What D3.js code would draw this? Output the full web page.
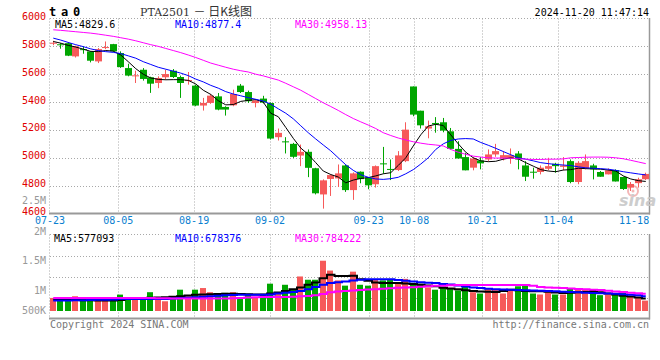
<!DOCTYPE html>
<html>
<head>
<meta charset="utf-8">
<script src="https://cdn.jsdelivr.net/npm/d3@7"></script>
<style>
  body { margin: 0; background: #fff; }
  svg { display: block; }
</style>
</head>
<body>
<div id="chart"></div>
<script>
// trading days 07-23 .. 11-20
const dates = ["07-23","07-24","07-25","07-26","07-29","07-30","07-31","08-01","08-02",
  "08-05","08-06","08-07","08-08","08-09","08-12","08-13","08-14","08-15","08-16",
  "08-19","08-20","08-21","08-22","08-23","08-26","08-27","08-28","08-29","08-30",
  "09-02","09-03","09-04","09-05","09-06","09-09","09-10","09-11","09-12","09-13",
  "09-18","09-19","09-20","09-23","09-24","09-25","09-26","09-27","09-30",
  "10-08","10-09","10-10","10-11","10-14","10-15","10-16","10-17","10-18",
  "10-21","10-22","10-23","10-24","10-25","10-28","10-29","10-30","10-31","11-01",
  "11-04","11-05","11-06","11-07","11-08","11-11","11-12","11-13","11-14","11-15",
  "11-18","11-19","11-20"];

const open  = [5822,5815,5823,5728,5780,5764,5692,5792,5816,5752,5644,5588,5632,5578,5537,5578,5625,5580,5553,5518,
               5375,5394,5441,5365,5377,5518,5472,5393,5425,5393,5148,5118,5100,5016,5043,4925,4737,4848,4852,4945,
               4768,4900,4857,4810,4960,4920,4912,4976,5512,5338,5210,5250,5255,5190,5064,5005,4929,4981,4988,5024,
               4995,4995,5031,4945,4900,4898,4921,4957,4935,4976,4826,4924,4945,4898,4881,4912,4862,4786,4818,4846];
const high  = [5840,5823,5830,5805,5800,5766,5788,5835,5818,5764,5675,5625,5644,5582,5585,5632,5637,5590,5616,5525,
               5430,5458,5465,5370,5489,5530,5482,5421,5445,5398,5210,5148,5107,5095,5060,4928,4845,4881,4952,4952,
               4895,4902,4857,4945,5078,4988,5048,5255,5512,5338,5267,5292,5286,5214,5119,5036,5005,5005,5060,5100,
               5048,5067,5048,4976,4929,4945,5000,4964,5005,4988,4976,5024,4957,4905,4924,4917,4864,4826,4857,4893];
const low   = [5808,5783,5730,5720,5747,5685,5680,5780,5759,5645,5585,5537,5554,5466,5500,5561,5573,5430,5525,5370,
               5339,5387,5341,5303,5370,5465,5394,5362,5390,5131,5124,5031,4999,4940,4861,4737,4635,4726,4790,4755,
               4698,4817,4774,4786,4886,4840,4905,4969,5298,5210,5140,5180,5183,5060,4995,4910,4910,4917,4976,5007,
               4981,4957,4917,4833,4850,4881,4910,4893,4910,4817,4810,4917,4845,4864,4881,4830,4769,4762,4786,4840];
const close = [5826,5811,5733,5800,5773,5697,5780,5795,5764,5651,5590,5592,5566,5532,5573,5601,5580,5537,5558,5375,
               5394,5446,5346,5346,5458,5472,5406,5412,5396,5138,5179,5112,5007,5043,4928,4745,4838,4876,4888,4768,
               4888,4847,4802,4940,4955,4917,5017,5202,5310,5233,5226,5240,5195,5064,4995,4910,4995,4960,5024,5048,
               5019,5019,4988,4864,4897,4929,4940,4940,4945,4826,4964,4976,4917,4864,4910,4830,4776,4812,4846,4884];

const ma5  = [5835,5823,5807,5795,5780,5764,5762,5770,5766,5738,5690,5640,5600,5573,5563,5560,5561,5561,5556,5530,
              5485,5455,5410,5380,5382,5405,5412,5418,5400,5320,5295,5218,5140,5070,5024,4965,4905,4880,4862,4820,
              4840,4852,4858,4870,4885,4893,4945,5000,5085,5165,5228,5240,5232,5165,5100,5040,5000,4978,4972,4975,
              4990,5000,4992,4965,4940,4915,4905,4900,4912,4915,4925,4922,4920,4918,4912,4905,4870,4848,4836,4830];
const ma10 = [5859,5845,5828,5812,5798,5782,5770,5762,5757,5748,5732,5715,5690,5670,5650,5636,5622,5608,5590,5565,
              5545,5520,5500,5475,5458,5445,5432,5420,5408,5385,5352,5320,5280,5230,5180,5135,5092,5050,5000,4950,
              4910,4878,4860,4848,4845,4850,4860,4885,4915,4955,5000,5060,5100,5125,5135,5138,5135,5110,5090,5068,
              5045,5022,5000,4990,4978,4965,4958,4952,4948,4944,4935,4928,4925,4922,4918,4910,4900,4892,4884,4877];
const ma30 = [5919,5915,5910,5905,5900,5895,5888,5880,5872,5862,5852,5840,5826,5812,5800,5785,5770,5755,5738,5720,
              5700,5680,5665,5650,5636,5625,5616,5600,5588,5573,5558,5535,5510,5485,5455,5425,5395,5368,5340,5310,
              5282,5258,5235,5210,5180,5160,5142,5128,5115,5105,5097,5092,5085,5060,5040,5025,5012,5005,5000,4998,
              4998,4997,4993,4990,4988,4988,4990,4990,4992,5000,5002,5004,5005,5005,5004,5000,4993,4982,4970,4958];

// volume in thousands of lots
const volume = [598,598,630,675,550,630,630,630,475,750,630,630,525,860,598,445,630,975,675,975,
                1050,860,785,830,860,598,785,630,785,1250,860,1200,975,1580,1430,1430,2300,1850,1400,1160,
                1800,1200,1160,1430,1400,1430,1280,1470,1200,1250,1080,975,1130,1050,945,1100,860,800,1020,975,
                800,975,1130,1160,800,755,860,755,755,1050,1000,1000,975,725,755,755,830,675,645,475];
const vma5  = [522,515,508,500,492,488,484,480,478,500,552,570,590,605,620,627,650,680,710,748,
               760,770,780,790,794,780,770,760,750,800,850,920,1000,1080,1200,1300,1500,1655,1600,1600,
               1610,1450,1380,1300,1277,1277,1277,1260,1231,1200,1171,1130,1060,1030,990,950,910,895,880,869,
               920,975,950,910,900,900,880,850,824,840,854,870,900,860,800,760,700,660,620,577];
const vma10 = [477,480,485,490,492,500,510,520,530,545,552,552,552,552,552,552,570,590,610,627,
               650,680,700,718,730,740,745,748,748,760,800,830,869,920,1000,1100,1200,1277,1310,1352,
               1400,1430,1458,1458,1458,1458,1420,1380,1352,1320,1290,1277,1240,1210,1171,1120,1080,1050,1020,1000,
               985,975,965,950,940,929,915,900,880,869,855,840,824,815,805,794,770,748,720,678];
const vma30 = [600,600,600,598,598,598,598,598,598,598,598,595,592,590,585,580,575,570,568,568,
               568,568,568,570,580,600,615,630,643,643,643,643,650,670,690,718,780,860,890,915,
               940,960,980,1000,1020,1040,1060,1075,1090,1110,1130,1150,1160,1175,1186,1186,1186,1186,1186,1186,
               1186,1186,1186,1186,1150,1100,1080,1060,1050,1030,1010,990,975,960,930,890,869,840,815,784];

const priceTicks = [6000,5800,5600,5400,5200,5000,4800,4600];
const volTicks = [2500000,2000000,1500000,1000000,500000];
const volTickText = ["2.5M","2M","1.5M","1M","500K"];
const dateTicks = ["07-23","08-05","08-19","09-02","09-23","10-08","10-21","11-04","11-18"];

const W = 660, H = 360;
const left = 50, right = 649.5;
const pTop = 18.5, pBottom = 213.5;
const vTop = 234.5, vBottom = 318.5;
const mono = "'DejaVu Sans Mono', monospace";
const up = "#f65a5a", down = "#00a600";
const gridColor = "#a8a8a8";

const svg = d3.select("#chart").append("svg")
  .attr("width", W).attr("height", H)
  .style("font-family", mono).style("font-size", "10px");

const x = d3.scaleBand().domain(d3.range(dates.length))
  .range([left - 0.5, right]).paddingInner(0.2).paddingOuter(0.1);
const cx = i => x(i) + x.bandwidth() / 2;
const xGrid = d3.scaleLinear().domain([0, dates.length - 1]).range([left, right - 0.2]);
const y = d3.scaleLinear().domain([4600, 6000]).range([pBottom, pTop]);
const yV = d3.scaleLinear().domain([0, 3500]).range([311, vTop]);
const yVLabel = d3.scaleLinear().domain([2500000, 1000000, 500000]).range([200, 290.5, 310.5]);

// grids
const gridIdx = dateTicks.slice(1, -1).map(d => dates.indexOf(d));
[[pTop, pBottom], [vTop, vBottom]].forEach(([t, b]) => {
  svg.append("g").selectAll("line").data(gridIdx).join("line")
    .attr("x1", d => Math.round(xGrid(d)) + 0.5).attr("x2", d => Math.round(xGrid(d)) + 0.5)
    .attr("y1", t).attr("y2", b)
    .attr("stroke", gridColor).attr("stroke-dasharray", "1,2");
});
svg.append("g").selectAll("line").data(priceTicks.slice(1, -1)).join("line")
  .attr("x1", left).attr("x2", right)
  .attr("y1", d => Math.round(y(d)) + 0.5).attr("y2", d => Math.round(y(d)) + 0.5)
  .attr("stroke", gridColor).attr("stroke-dasharray", "1,2");
svg.append("g").selectAll("line").data([1, 2, 3]).join("line")
  .attr("x1", left).attr("x2", right)
  .attr("y1", d => Math.round(vTop + (vBottom - vTop) * d / 4) + 0.5)
  .attr("y2", d => Math.round(vTop + (vBottom - vTop) * d / 4) + 0.5)
  .attr("stroke", gridColor).attr("stroke-dasharray", "1,2");

// panel frames: dotted top/left, solid right/bottom
[[pTop, pBottom], [vTop, vBottom]].forEach(([t, b]) => {
  svg.append("line").attr("x1", left).attr("x2", right).attr("y1", t).attr("y2", t)
    .attr("stroke", gridColor).attr("stroke-dasharray", "1,2");
  svg.append("line").attr("x1", left - 0.5).attr("x2", left - 0.5).attr("y1", t).attr("y2", b)
    .attr("stroke", gridColor).attr("stroke-dasharray", "1,2");
  svg.append("line").attr("x1", right).attr("x2", right).attr("y1", t - 0.5).attr("y2", b + 1)
    .attr("stroke", "#999").attr("stroke-width", 1.5);
  svg.append("line").attr("x1", left - 1).attr("x2", right + 0.5).attr("y1", b).attr("y2", b)
    .attr("stroke", "#999").attr("stroke-width", 2);
});

// watermark
const wm = svg.append("g").attr("opacity", 0.9);
wm.append("circle").attr("cx", 633).attr("cy", 191).attr("r", 5)
  .attr("fill", "none").attr("stroke", "#f3b0b0").attr("stroke-width", 2);
wm.append("circle").attr("cx", 633).attr("cy", 191).attr("r", 1.5).attr("fill", "#f3b0b0");
wm.append("text").attr("x", 619).attr("y", 206)
  .style("font-family", "'DejaVu Sans', sans-serif").style("font-size", "16px")
  .style("font-style", "italic").style("font-weight", "bold")
  .attr("fill", "#c8c8c8").text("sina");

// candles
const idx = d3.range(dates.length);
const col = i => close[i] >= open[i] ? up : down;
const candles = svg.append("g");
candles.selectAll("line").data(idx).join("line")
  .attr("x1", i => Math.floor(cx(i)) + 0.5).attr("x2", i => Math.floor(cx(i)) + 0.5)
  .attr("y1", i => y(high[i])).attr("y2", i => y(low[i]))
  .attr("stroke", col);
candles.selectAll("rect").data(idx).join("rect")
  .attr("x", i => Math.floor(cx(i)) - 3).attr("width", 7)
  .attr("y", i => y(Math.max(open[i], close[i])))
  .attr("height", i => Math.max(1, Math.abs(y(open[i]) - y(close[i]))))
  .attr("fill", col);

const maLine = d3.line().x((d, i) => cx(i)).y(d => y(d));
[[ma5, "#000"], [ma10, "#0000ff"], [ma30, "#ff00ff"]].forEach(([s, c]) => {
  svg.append("path").datum(s).attr("d", maLine)
    .attr("fill", "none").attr("stroke", c).attr("stroke-width", 1);
});

// volume
svg.append("g").selectAll("rect").data(idx).join("rect")
  .attr("x", i => Math.floor(cx(i)) - 3).attr("width", 6)
  .attr("y", i => yV(volume[i])).attr("height", i => yV(0) - yV(volume[i]))
  .attr("fill", col);
const vLine = d3.line().curve(d3.curveStep).x((d, i) => cx(i)).y(d => yV(d));
[[vma5, "#000"], [vma10, "#0000ff"], [vma30, "#ff00ff"]].forEach(([s, c]) => {
  svg.append("path").datum(s).attr("d", vLine)
    .attr("fill", "none").attr("stroke", c).attr("stroke-width", 2);
});

// price axis labels
svg.append("g").selectAll("text").data(priceTicks).join("text")
  .attr("x", 46).attr("y", d => y(d) + 1.5)
  .attr("text-anchor", "end").attr("fill", "#e00000").text(d => d);
svg.append("g").selectAll("text").data(volTicks).join("text")
  .attr("x", 46).attr("y", d => yVLabel(d) + (d === 2000000 ? 5 : 3.5))
  .attr("text-anchor", "end").attr("fill", "#999").text((d, i) => volTickText[i]);

// date labels
svg.append("g").selectAll("text").data(dateTicks).join("text")
  .attr("x", d => xGrid(dates.indexOf(d))).attr("y", 224)
  .attr("text-anchor", "middle").attr("fill", "#0a80d0").text(d => d);

// headers
svg.append("text").attr("x", 49).attr("y", 15.5)
  .style("font-size", "12px").style("font-weight", "bold").style("letter-spacing", "-1.2px")
  .text("t a 0");
const title = svg.append("text").attr("x", 140).attr("y", 16).attr("fill", "#333");
title.append("tspan").style("font-family", "'DejaVu Serif', serif").style("font-size", "11px").text("PTA2501 ");
title.append("tspan").style("font-family", "'Noto Sans CJK SC', sans-serif").style("font-size", "12px").text("－ 日K线图");
svg.append("text").attr("x", 649).attr("y", 16).attr("text-anchor", "end").text("2024-11-20 11:47:14");

const maText = [["MA5:4829.6", "#000", 55], ["MA10:4877.4", "#0000ff", 175], ["MA30:4958.13", "#ff00ff", 295]];
maText.forEach(([t, c, px]) => svg.append("text").attr("x", px).attr("y", 27.5).attr("fill", c).text(t));
const vmaText = [["MA5:577093", "#000", 54], ["MA10:678376", "#0000ff", 175], ["MA30:784222", "#ff00ff", 295]];
vmaText.forEach(([t, c, px]) => svg.append("text").attr("x", px).attr("y", 242).attr("fill", c).text(t));

svg.append("text").attr("x", 50).attr("y", 328).attr("fill", "#777").text("Copyright 2024 SINA.COM");
svg.append("text").attr("x", 649).attr("y", 328).attr("text-anchor", "end").attr("fill", "#777").text("http://finance.sina.com.cn");
</script>
</body>
</html>
